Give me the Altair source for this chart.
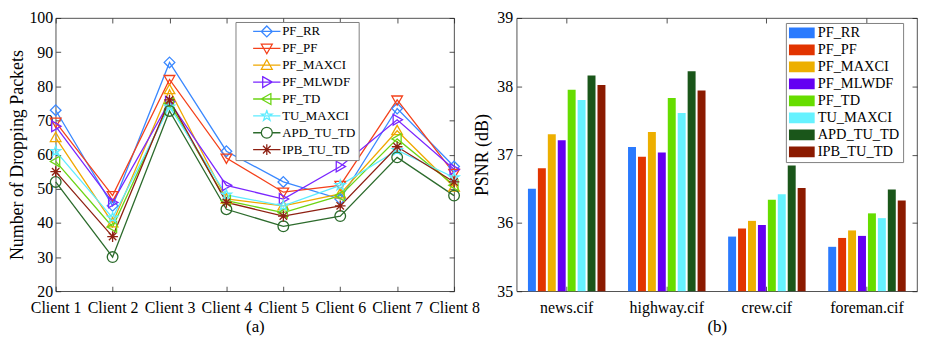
import altair as alt
import pandas as pd

# ---------------- data ----------------
clients = ["Client 1", "Client 2", "Client 3", "Client 4", "Client 5", "Client 6", "Client 7", "Client 8"]
series = ["PF_RR", "PF_PF", "PF_MAXCI", "PF_MLWDF", "PF_TD", "TU_MAXCI", "APD_TU_TD", "IPB_TU_TD"]

drop_pf_rr = [73, 45, 87, 61, 52, 47, 73.5, 56.5]
drop_pf_pf = [69.5, 48, 82, 59, 49, 51, 76, 54.5]
drop_pf_maxci = [65, 40, 79, 47, 45, 48.5, 67, 50.5]
drop_pf_mlwdf = [68.3, 46, 75.5, 51, 47, 56.5, 70.2, 55.7]
drop_pf_td = [58, 38.8, 75, 46.5, 43, 48, 64.6, 51]
drop_tu_maxci = [61, 41.5, 74, 48.2, 45, 51, 61.3, 53.3]
drop_apd_tu_td = [52, 30, 72.8, 44, 39, 42, 59.2, 48]
drop_ipb_tu_td = [55, 36, 76, 46, 42, 45, 62.3, 52]

videos = ["news.cif", "highway.cif", "crew.cif", "foreman.cif"]
psnr_pf_rr = [36.50, 37.11, 35.80, 35.65]
psnr_pf_pf = [36.80, 36.97, 35.92, 35.78]
psnr_pf_maxci = [37.30, 37.33, 36.03, 35.89]
psnr_pf_mlwdf = [37.21, 37.03, 35.97, 35.81]
psnr_pf_td = [37.95, 37.83, 36.34, 36.14]
psnr_tu_maxci = [37.80, 37.61, 36.42, 36.07]
psnr_apd_tu_td = [38.16, 38.22, 36.84, 36.49]
psnr_ipb_tu_td = [38.02, 37.94, 36.51, 36.33]

y_ticks_a = [20, 30, 40, 50, 60, 70, 80, 90, 100]
y_ticks_b = [35, 36, 37, 38, 39]

# ---------------- styles ----------------
line_colors = ["#3a88ff", "#f4401a", "#f0a800", "#7a26ff", "#6cd414", "#5eecff", "#2c6b2c", "#8e2012"]
bar_colors = ["#2a7afe", "#e23400", "#edaf00", "#6400f2", "#66dd00", "#66f2ff", "#1a561a", "#8b1a00"]

markers = [
    "M0,-1L1,0L0,1L-1,0Z",
    "M-1,-0.75L1,-0.75L0,1Z",
    "M-1,0.75L1,0.75L0,-1Z",
    "M-0.75,-1L-0.75,1L1,0Z",
    "M0.75,-1L0.75,1L-1,0Z",
    "M0,-1L0.225,-0.309L0.951,-0.309L0.363,0.118L0.588,0.809L0,0.382L-0.588,0.809L-0.363,0.118L-0.951,-0.309L-0.225,-0.309Z",
    "M1,0A1,1,0,1,1,-1,0A1,1,0,1,1,1,0Z",
    "M-1,0H1M0,-1V1M-0.7,-0.7L0.7,0.7M-0.7,0.7L0.7,-0.7",
]
# legend glyphs: a line through a marker shrunk to 0.4 of the unit box
legend_markers = [
    "M-1,0H1M0,-0.4L0.4,0L0,0.4L-0.4,0Z",
    "M-1,0H1M-0.4,-0.3L0.4,-0.3L0,0.4Z",
    "M-1,0H1M-0.4,0.3L0.4,0.3L0,-0.4Z",
    "M-1,0H1M-0.3,-0.4L-0.3,0.4L0.4,0Z",
    "M-1,0H1M0.3,-0.4L0.3,0.4L-0.4,0Z",
    "M-1,0H1M0,-0.4L0.09,-0.124L0.38,-0.124L0.145,0.047L0.235,0.324L0,0.153L-0.235,0.324L-0.145,0.047L-0.38,-0.124L-0.09,-0.124Z",
    "M-1,0H-0.4M0.4,0H1M0.4,0A0.4,0.4,0,1,1,-0.4,0A0.4,0.4,0,1,1,0.4,0Z",
    "M-1,0H1M0,-0.4V0.4M-0.28,-0.28L0.28,0.28M-0.28,0.28L0.28,-0.28",
]

FONT = "Liberation Serif"
W_A, H = 401, 275
W_B = 403

drop_lists = [drop_pf_rr, drop_pf_pf, drop_pf_maxci, drop_pf_mlwdf, drop_pf_td,
              drop_tu_maxci, drop_apd_tu_td, drop_ipb_tu_td]
psnr_lists = [psnr_pf_rr, psnr_pf_pf, psnr_pf_maxci, psnr_pf_mlwdf, psnr_pf_td,
              psnr_tu_maxci, psnr_apd_tu_td, psnr_ipb_tu_td]

df_a = pd.DataFrame(
    [{"client": c, "series": s, "value": v}
     for s, vals in zip(series, drop_lists) for c, v in zip(clients, vals)]
)
df_b = pd.DataFrame(
    [{"video": c, "series": s, "psnr": v}
     for s, vals in zip(series, psnr_lists) for c, v in zip(videos, vals)]
)

# ---------------- chart (a) ----------------
x_a = alt.X(
    "client:N", sort=clients,
    scale=alt.Scale(type="point", padding=0),
    axis=alt.Axis(title="(a)", labelAngle=0, grid=True, gridDash=[5, H - 10],
                  gridColor="#262626", gridWidth=0.8, ticks=False, domain=False,
                  labelPadding=8, titlePadding=4, labelFontSize=16, titleFontSize=17,
                  labelFont=FONT, titleFont=FONT),
)
y_a = alt.Y(
    "value:Q",
    scale=alt.Scale(domain=[20, 100], nice=False, zero=False),
    axis=alt.Axis(title="Number of Dropping Packets", values=y_ticks_a, grid=True,
                  gridDash=[5, W_A - 10], gridColor="#262626", gridWidth=0.8,
                  ticks=False, domain=False, labelPadding=3, titlePadding=2,
                  labelFontSize=16, titleFontSize=18, labelFont=FONT, titleFont=FONT),
)

col_scale_a = alt.Scale(domain=series, range=line_colors)

lines = alt.Chart(df_a).mark_line(strokeWidth=1.3).encode(
    x=x_a, y=y_a,
    color=alt.Color("series:N", scale=col_scale_a, legend=None),
    detail="series:N",
)
points = alt.Chart(df_a).mark_point(filled=False, strokeWidth=1.3, size=115, opacity=1).encode(
    x=x_a, y=y_a,
    color=alt.Color("series:N", scale=col_scale_a, legend=None),
    shape=alt.Shape("series:N", scale=alt.Scale(domain=series, range=markers), legend=None),
)
legend_a = alt.Chart(df_a).mark_point(filled=False, strokeWidth=1.3, opacity=1).encode(
    color=alt.Color("series:N", scale=col_scale_a,
                    legend=alt.Legend(title=None, orient="none", legendX=181, legendY=4,
                                      fillColor="white", strokeColor="#808080", padding=3,
                                      labelFont=FONT, labelFontSize=13, labelColor="black",
                                      symbolSize=756, symbolStrokeWidth=1.3, rowPadding=3.0,
                                      clipHeight=13,
                                      symbolOffset=14, labelOffset=1, labelLimit=300)),
    shape=alt.Shape("series:N", scale=alt.Scale(domain=series, range=legend_markers)),
).transform_filter("false")

chart_a = alt.layer(lines, points, legend_a).resolve_scale(
    color="independent", shape="independent"
).properties(width=W_A, height=H)

# ---------------- chart (b) ----------------
bars = alt.Chart(df_b).mark_bar().encode(
    x=alt.X("video:N", sort=videos,
            scale=alt.Scale(paddingInner=0.206, paddingOuter=0.103),
            axis=alt.Axis(title="(b)", labelAngle=0, grid=True, gridDash=[5, H - 10],
                          gridColor="#262626", gridWidth=0.8, ticks=False, domain=False,
                          bandPosition=0.5, labelPadding=8, titlePadding=4,
                          labelFontSize=16, titleFontSize=17, labelFont=FONT, titleFont=FONT)),
    xOffset=alt.XOffset("series:N", sort=series,
                        scale=alt.Scale(paddingInner=0.2, paddingOuter=0.1)),
    y=alt.Y("psnr:Q", scale=alt.Scale(domain=[35, 39], nice=False, zero=False),
            axis=alt.Axis(title="PSNR (dB)", values=y_ticks_b, grid=True,
                          gridDash=[5, W_B - 10], gridColor="#262626", gridWidth=0.8,
                          ticks=False, domain=False, labelPadding=4, titlePadding=5,
                          labelFontSize=16, titleFontSize=18, labelFont=FONT, titleFont=FONT)),
    y2=alt.Y2Datum(35),
    color=alt.Color("series:N", sort=series,
                    scale=alt.Scale(domain=series, range=bar_colors),
                    legend=alt.Legend(title=None, orient="none", legendX=271, legendY=5,
                                      fillColor="white", strokeColor="#808080", padding=3,
                                      labelFont=FONT, labelFontSize=14.5, labelColor="black",
                                      symbolType="M-1,-0.42H1V0.42H-1Z",
                                      symbolSize=676, symbolStrokeWidth=0, rowPadding=2.1,
                                      clipHeight=14,
                                      symbolOffset=0, labelOffset=3, labelLimit=300)),
).properties(width=W_B, height=H)

chart = alt.hconcat(chart_a, bars, spacing=63, bounds="flush").resolve_scale(
    color="independent", shape="independent"
).properties(
    padding={"left": 0, "top": 0, "right": 0, "bottom": 0}
).configure(
    font=FONT
).configure_axis(
    labelFont=FONT, titleFont=FONT, labelColor="black", titleColor="black",
    titleFontWeight="normal",
).configure_view(
    stroke="#262626", strokeWidth=0.8
)

chart.save("out.html", embed_options={"renderer": "svg", "actions": False})
